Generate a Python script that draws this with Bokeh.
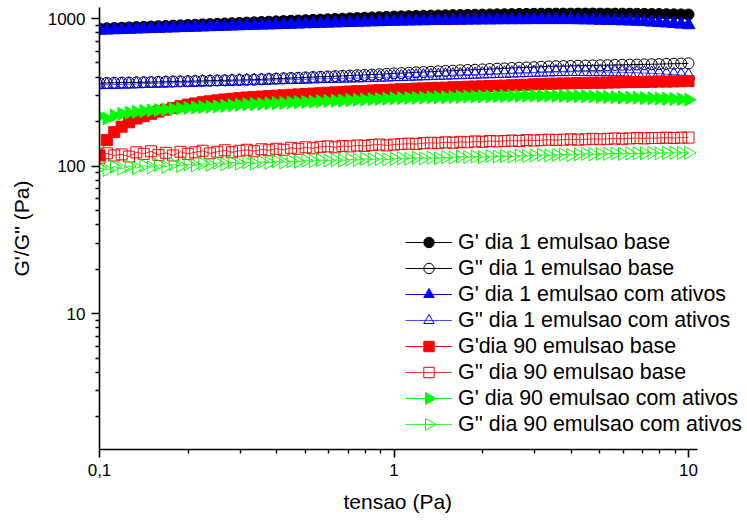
from bokeh.plotting import figure
from bokeh.models import (Range1d, Legend, LegendItem, CustomJSTickFormatter, FixedTicker,
                          LinearScale, Title)
from bokeh.embed import file_html
from bokeh.resources import INLINE

# x values (tensao, Pa)
tensao = [0.1, 0.1059, 0.1122, 0.1189, 0.1259, 0.1334, 0.1413, 0.1496, 0.1585, 0.1679,
          0.1778, 0.1884, 0.1995, 0.2114, 0.2239, 0.2371, 0.2512, 0.2661, 0.2818, 0.2985,
          0.3162, 0.3350, 0.3548, 0.3758, 0.3981, 0.4217, 0.4467, 0.4732, 0.5012, 0.5309,
          0.5623, 0.5957, 0.6310, 0.6683, 0.7079, 0.7499, 0.7943, 0.8414, 0.8913, 0.9441,
          1.0, 1.059, 1.122, 1.189, 1.259, 1.334, 1.413, 1.496, 1.585, 1.679,
          1.778, 1.884, 1.995, 2.114, 2.239, 2.371, 2.512, 2.661, 2.818, 2.985,
          3.162, 3.350, 3.548, 3.758, 3.981, 4.217, 4.467, 4.732, 5.012, 5.309,
          5.623, 5.957, 6.310, 6.683, 7.079, 7.499, 7.943, 8.414, 8.913, 9.441, 10.0]

g1_base = [855, 859, 863, 867, 871, 875, 879, 883, 887, 891, 896, 900, 904, 908, 913, 917, 921, 926, 930, 934,
           939, 943, 948, 952, 957, 961, 966, 970, 975, 980, 984, 989, 994, 998, 1003, 1008, 1013, 1018, 1022, 1027,
           1032, 1035, 1038, 1041, 1044, 1047, 1050, 1053, 1055, 1058, 1060, 1062, 1064, 1066, 1068, 1070, 1072, 1074,
           1076, 1078, 1080, 1081, 1082, 1083, 1083, 1084, 1084, 1084, 1083, 1083, 1082, 1081, 1080, 1079, 1077, 1075,
           1073, 1071, 1069, 1067, 1065]

g2_1_base = [365, 366, 367, 368, 368, 369, 370, 371, 372, 373, 374, 375, 376, 377, 378, 379, 380, 381, 382, 383,
             384, 385, 387, 389, 391, 393, 395, 397, 399, 401, 403, 405, 407, 409, 411, 413, 415, 417, 419, 422,
             425, 427, 429, 432, 434, 436, 439, 441, 443, 446, 448, 450, 452, 455, 457, 459, 462, 464, 466, 468,
             471, 473, 475, 476, 477, 479, 480, 481, 482, 483, 485, 486, 487, 488, 489, 490, 491, 493, 494, 495, 497]

g1_ativos = [830, 833, 836, 839, 842, 846, 849, 852, 855, 858, 861, 865, 868, 871, 874, 877, 880, 883, 887, 890,
             893, 896, 899, 902, 905, 909, 912, 915, 918, 921, 925, 928, 931, 934, 937, 940, 943, 946, 949, 952,
             955, 957, 959, 961, 963, 965, 967, 968, 970, 971, 972, 974, 975, 976, 977, 978, 978, 979, 979, 980,
             980, 980, 980, 980, 980, 978, 976, 974, 971, 968, 965, 962, 959, 955, 950, 943, 936, 929, 921, 913, 905]

g2_1_ativos = [355, 356, 357, 358, 359, 360, 362, 363, 364, 365, 366, 367, 368, 370, 371, 372, 373, 374, 376, 377,
               378, 380, 381, 382, 383, 384, 385, 386, 387, 389, 390, 391, 392, 393, 394, 395, 396, 398, 399, 400,
               402, 403, 405, 406, 408, 409, 411, 412, 414, 415, 417, 418, 420, 421, 423, 424, 426, 427, 429, 430,
               432, 433, 435, 435, 436, 436, 436, 435, 435, 434, 433, 432, 430, 429, 427, 425, 423, 420, 417, 414, 411]

g90_base = [118, 150, 170, 185, 198, 210, 218, 226, 234, 241, 248, 255, 261, 266, 271, 275, 279, 283, 286, 289,
            292, 294, 296, 298, 300, 302, 304, 306, 308, 310, 312, 314, 316, 318, 320, 322, 323, 325, 327, 328,
            330, 332, 333, 335, 336, 338, 339, 340, 342, 343, 345, 346, 347, 349, 350, 351, 353, 354, 356, 358,
            360, 361, 362, 363, 364, 365, 366, 367, 367, 368, 369, 370, 371, 371, 372, 373, 374, 374, 375, 376, 377]

g2_90_base = [114, 122, 118, 120, 116, 124, 121, 126, 119, 123, 118, 125, 121, 124, 127, 122, 125, 128, 124, 127,
              129, 126, 130, 128, 131, 129, 133, 131, 134, 132, 135, 136, 134, 137, 136, 138, 137, 139, 140, 138,
              140, 141, 142, 141, 143, 144, 143, 145, 144, 146, 145, 147, 146, 148, 147, 148, 149, 148, 150, 149,
              150, 151, 150, 151, 152, 151, 152, 153, 152, 153, 154, 153, 154, 155, 154, 155, 155, 156, 155, 156, 156]

g90_ativos = [218, 210, 220, 226, 230, 233, 236, 238, 240, 242, 244, 246, 248, 249, 251, 252, 254, 256, 258, 260,
              262, 263, 264, 266, 267, 268, 270, 271, 272, 273, 275, 276, 277, 278, 280, 281, 282, 284, 285, 286,
              288, 289, 290, 290, 291, 292, 293, 293, 294, 295, 296, 296, 297, 297, 298, 298, 299, 299, 300, 300,
              300, 300, 299, 299, 298, 298, 297, 296, 295, 294, 293, 292, 291, 290, 289, 288, 287, 286, 285, 284, 282]

g2_90_ativos = [97, 94, 99, 96, 100, 97, 101, 98, 102, 99, 103, 100, 103, 101, 104, 102, 105, 103, 106, 104,
                106, 104, 107, 105, 108, 106, 108, 107, 109, 108, 110, 109, 110, 109, 111, 110, 112, 111, 112, 111,
                112, 113, 112, 114, 113, 114, 113, 115, 114, 116, 115, 116, 115, 117, 116, 117, 116, 118, 117, 118,
                119, 118, 119, 120, 119, 120, 121, 120, 121, 121, 122, 121, 122, 122, 122, 123, 122, 123, 123, 123, 123]

labels = ["G' dia 1 emulsao base", "G'' dia 1 emulsao base", "G' dia 1 emulsao com ativos",
          "G'' dia 1 emulsao com ativos", "G'dia 90 emulsao base", "G'' dia 90 emulsao base",
          "G' dia 90 emulsao com ativos", "G'' dia 90 emulsao com ativos"]

x_major = [0.1, 1, 10]
y_major = [10, 100, 1000]
mantissas = [2, 3, 4, 5, 6, 7, 8, 9]

FONT = "Liberation Sans"
FRAME_W, FRAME_H = 648, 442

p = figure(width=747, height=523, x_axis_type="log", y_axis_type="log",
           x_range=Range1d(0.1, 15.86), y_range=Range1d(1.2, 1188),
           output_backend="svg", toolbar_location=None,
           min_border_left=99, min_border_right=0, min_border_top=7, min_border_bottom=74)
p.outline_line_color = None
p.xgrid.visible = False
p.ygrid.visible = False

# pixel-like helper ranges (frame coordinates) for the legend's right-pointing markers
p.extra_x_ranges = {"px": Range1d(0, FRAME_W)}
p.extra_y_ranges = {"px": Range1d(0, FRAME_H)}
p.extra_x_scales = {"px": LinearScale()}
p.extra_y_scales = {"px": LinearScale()}

fmt = CustomJSTickFormatter(code="const s = Number(tick.toPrecision(6)).toString(); return s.replace('.', ',');")
p.xaxis.ticker = FixedTicker(ticks=x_major, minor_ticks=[m * d for d in [0.1, 1] for m in mantissas])
p.yaxis.ticker = FixedTicker(ticks=y_major, minor_ticks=[m * d for d in [1, 10, 100, 1000] for m in mantissas])
p.xaxis.bounds = (0.1, 10.72)
for ax in (p.xaxis[0], p.yaxis[0]):
    ax.formatter = fmt
    ax.axis_line_width = 1.6
    ax.axis_line_color = "black"
    ax.major_tick_line_width = 1.6
    ax.minor_tick_line_width = 1.4
    ax.major_tick_in = 0
    ax.major_tick_out = 8
    ax.minor_tick_in = 0
    ax.minor_tick_out = 4
    ax.major_label_text_font = FONT
    ax.major_label_text_font_size = "17px"
    ax.major_label_text_color = "black"
    ax.major_label_standoff = 6
    ax.axis_label_text_font = FONT
    ax.axis_label_text_font_size = "21px"
    ax.axis_label_text_font_style = "normal"
    ax.axis_label_text_color = "black"
p.yaxis.axis_label = "G'/G'' (Pa)"
p.yaxis.axis_label_standoff = 12

# x-axis title, centred under the visible axis (the frame runs on to the right for the legend)
xtitle = Title(text="tensao (Pa)", align="left", offset=244, standoff=18,
               text_font=FONT, text_font_size="21px", text_font_style="normal", text_color="black")
p.add_layout(xtitle, "below")

# (values, marker, color, filled, size, angle, line colour)
series = [
    (g1_base, "circle", "black", True, 11, 0.0, "black"),
    (g2_1_base, "circle", "black", False, 11, 0.0, "black"),
    (g1_ativos, "triangle", "#0000ff", True, 13, 0.0, "#0000ff"),
    (g2_1_ativos, "triangle", "#0000ff", False, 13, 0.0, "#4d4dff"),
    (g90_base, "square", "#ff0000", True, 11, 0.0, "#ff0000"),
    (g2_90_base, "square", "#ff0000", False, 11, 0.0, "#ff3333"),
    (g90_ativos, "triangle", "#00ff00", True, 13, -1.5708, "#00ff00"),
    (g2_90_ativos, "triangle", "#00ff00", False, 13, -1.5708, "#33ff33"),
]

ROW_H, LEG_X, LEG_Y, GLYPH_W = 26, 306, 12, 47
LEG_TOP = LEG_Y + 8 * ROW_H

items = []
for k, ((ys, marker, color, filled, size, angle, lcolor), lab) in enumerate(zip(series, labels)):
    lr = p.line(tensao, ys, line_color=lcolor, line_width=1)
    sr = p.scatter(tensao, ys, marker=marker, size=size, angle=angle,
                   line_color=color, line_width=1,
                   fill_color=color if filled else "white", fill_alpha=1.0 if filled else 0.0)
    if angle == 0.0:
        items.append(LegendItem(label=lab, renderers=[lr, sr]))
    else:
        # legend markers ignore the glyph angle, so draw the rotated marker ourselves
        items.append(LegendItem(label=lab, renderers=[lr]))
        cy = LEG_TOP - (k * ROW_H + ROW_H / 2)
        p.scatter([LEG_X + GLYPH_W / 2], [cy], marker=marker, size=12, angle=angle,
                  line_color=color, line_width=1,
                  fill_color=color if filled else "white", fill_alpha=1.0 if filled else 0.0,
                  x_range_name="px", y_range_name="px")

legend = Legend(items=items, location=(LEG_X, LEG_Y))
legend.border_line_color = None
legend.background_fill_alpha = 0
legend.padding = 0
legend.margin = 0
legend.spacing = 0
legend.label_height = ROW_H
legend.glyph_height = ROW_H
legend.glyph_width = GLYPH_W
legend.label_standoff = 6
legend.label_text_font = FONT
legend.label_text_font_size = "21.4px"
legend.label_text_color = "black"
p.add_layout(legend)

open("out.html", "w").write(file_html(p, INLINE))
